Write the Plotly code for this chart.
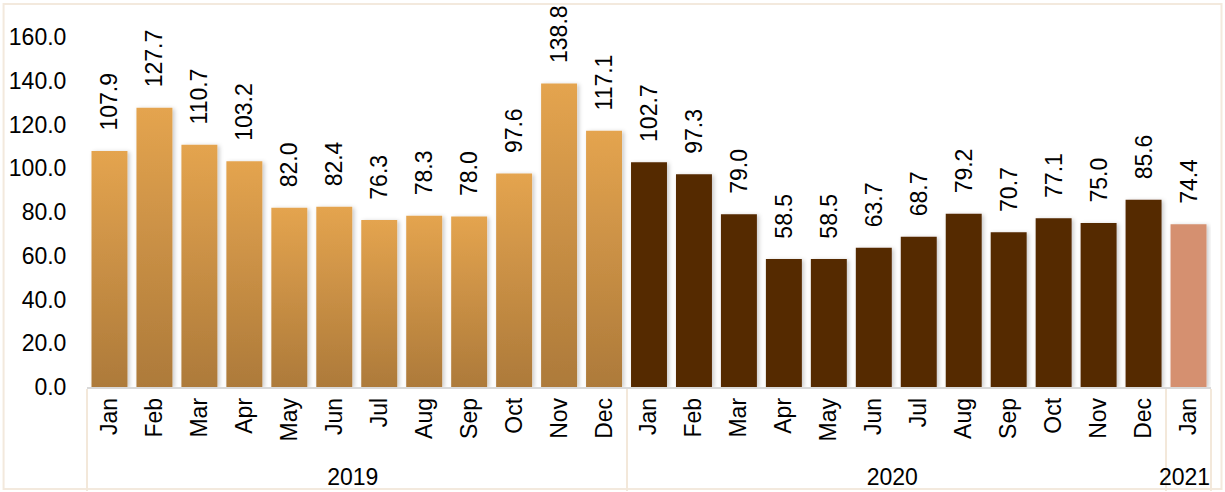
import plotly.graph_objects as go

months = ["Jan", "Feb", "Mar", "Apr", "May", "Jun", "Jul", "Aug", "Sep", "Oct", "Nov", "Dec"]
months_2021 = ["Jan"]
values_2019 = [107.9, 127.7, 110.7, 103.2, 82.0, 82.4, 76.3, 78.3, 78.0, 97.6, 138.8, 117.1]
values_2020 = [102.7, 97.3, 79.0, 58.5, 58.5, 63.7, 68.7, 79.2, 70.7, 77.1, 75.0, 85.6]
values_2021 = [74.4]
y_ticks = [0, 20, 40, 60, 80, 100, 120, 140, 160]

FONT = "Liberation Sans, Arial, sans-serif"
FS = 23
LABEL_PAD = "\u00a0\u00a0\u2009"

series = [
    ("2019", months, values_2019, "#C98F45"),
    ("2020", months, values_2020, "#552A00"),
    ("2021", months_2021, values_2021, "#D5906F"),
]

fig = go.Figure()
for year, mths, vals, color in series:
    fig.add_trace(go.Bar(
        x=[[year] * len(mths), mths],
        y=vals,
        marker=dict(color=color, line=dict(width=0)),
        text=[LABEL_PAD + f"{v:.1f}" for v in vals],
        textposition="outside",
        textangle=-90,
        textfont=dict(family=FONT, size=FS, color="#000000"),
        cliponaxis=False,
        constraintext="none",
        hoverinfo="skip",
        showlegend=False,
    ))

plot_top, plot_bottom = 10, 387
px_per_unit = (387 - 37) / 160.0
ymax = (plot_bottom - plot_top) / px_per_unit

fig.update_layout(
    width=1225, height=492,
    margin=dict(l=86.5, r=13.5, t=plot_top, b=492 - plot_bottom, autoexpand=False),
    paper_bgcolor="#FFFFFF",
    plot_bgcolor="#FFFFFF",
    barmode="overlay",
    bargap=0.2,
    hovermode=False,
    font=dict(family=FONT, size=FS, color="#000000"),
    xaxis=dict(
        type="multicategory",
        showline=True, linecolor="#D9D9D9", linewidth=1.5,
        showgrid=False, zeroline=False,
        tickangle=-90,
        ticks="outside", ticklen=14, tickcolor="rgba(0,0,0,0)",
        tickfont=dict(family=FONT, size=FS, color="#000000"),
        showdividers=True, dividercolor="#F3E8DA", dividerwidth=1.5,
        automargin=False,
    ),
    yaxis=dict(
        range=[0, ymax],
        tickvals=y_ticks,
        ticktext=[f"{v:.1f}" for v in y_ticks],
        showgrid=False, zeroline=False, showline=False,
        ticks="outside", ticklen=15, tickcolor="rgba(0,0,0,0)",
        tickfont=dict(family=FONT, size=FS, color="#000000"),
        automargin=False,
    ),
)

# outer chart frame
pw = 1225 - 86.5 - 13.5
ph = plot_bottom - plot_top
fig.add_shape(type="rect", xref="paper", yref="paper",
              x0=(3 - 86.5) / pw, x1=(1222 - 86.5) / pw,
              y0=(plot_bottom - 489) / ph, y1=(plot_bottom - 4) / ph,
              line=dict(color="#F3E9DD", width=2), fillcolor="rgba(0,0,0,0)", layer="below")

post = r"""
document.body.style.margin = '0';
var gd = document.getElementById('{plot_id}');
var ns = 'http://www.w3.org/2000/svg';
var svg = gd.querySelector('.main-svg');
var defs = svg.querySelector('defs');
if (!defs) { defs = document.createElementNS(ns, 'defs'); svg.insertBefore(defs, svg.firstChild); }
var lg = document.createElementNS(ns, 'linearGradient');
lg.setAttribute('id', 'g2019');
lg.setAttribute('x1', '0'); lg.setAttribute('y1', '0');
lg.setAttribute('x2', '0'); lg.setAttribute('y2', '1');
[['0', '#E4A44F'], ['1', '#AD7A3A']].forEach(function (s) {
  var st = document.createElementNS(ns, 'stop');
  st.setAttribute('offset', s[0]); st.setAttribute('stop-color', s[1]);
  lg.appendChild(st);
});
defs.appendChild(lg);
var f = document.createElementNS(ns, 'filter');
f.setAttribute('id', 'barshadow');
f.setAttribute('x', '-20%'); f.setAttribute('y', '-5%');
f.setAttribute('width', '140%'); f.setAttribute('height', '110%');
var ds = document.createElementNS(ns, 'feDropShadow');
ds.setAttribute('dx', '2'); ds.setAttribute('dy', '1');
ds.setAttribute('stdDeviation', '2');
ds.setAttribute('flood-color', '#000000'); ds.setAttribute('flood-opacity', '0.22');
f.appendChild(ds);
defs.appendChild(f);
var traces = gd.querySelectorAll('.barlayer .trace');
traces.forEach(function (tr, i) {
  tr.querySelectorAll('.point path').forEach(function (p) {
    if (i === 0) { p.style.fill = 'url(#g2019)'; }
    p.setAttribute('filter', 'url(#barshadow)');
  });
});
"""

fig.write_html("out.html", post_script=post, config={"displayModeBar": False})
